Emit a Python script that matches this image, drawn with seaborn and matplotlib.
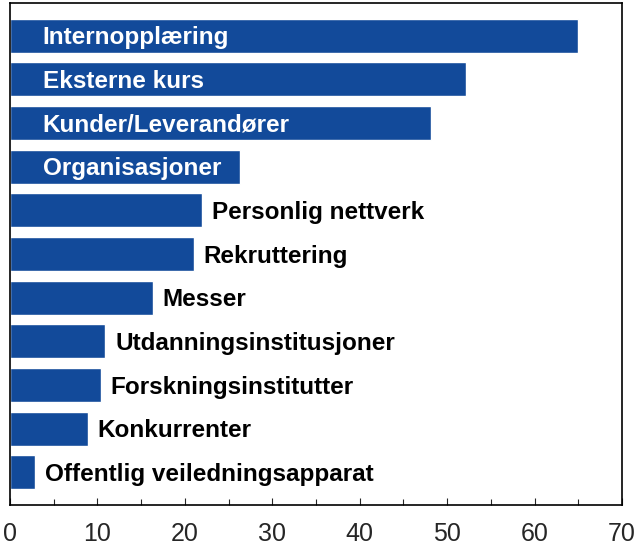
import pandas as pd
import seaborn as sns
import matplotlib
matplotlib.use('Agg')
import matplotlib.pyplot as plt
from matplotlib.ticker import MultipleLocator

# Data
kategorier = ['Internopplæring', 'Eksterne kurs', 'Kunder/Leverandører', 'Organisasjoner',
              'Personlig nettverk', 'Rekruttering', 'Messer', 'Utdanningsinstitusjoner',
              'Forskningsinstitutter', 'Konkurrenter', 'Offentlig veiledningsapparat']
verdier = [65.0, 52.2, 48.1, 26.3, 22.0, 21.0, 16.3, 10.9, 10.4, 8.9, 2.9]
inne_i_stolpen = [True, True, True, True, False, False, False, False, False, False, False]

df = pd.DataFrame({'kategori': kategorier, 'verdi': verdier})

sns.set_style('white')
plt.rcParams['font.family'] = ['Liberation Sans', 'DejaVu Sans']

fig = plt.figure(figsize=(6.4, 5.45), dpi=100)
ax = fig.add_axes([0.0156, 0.0734, 0.9563, 0.921])

sns.barplot(data=df, x='verdi', y='kategori', orient='h', color='#124a9a',
            saturation=1, width=0.78, ax=ax)

# Etiketter: hvit inni de lange stolpene, svart utenfor de korte
fs = 17.5
dy = -fs * 0.716 / 2
for i, (navn, v, inne) in enumerate(zip(kategorier, verdier, inne_i_stolpen)):
    if inne:
        ax.annotate(navn, xy=(0, i), xytext=(23.5, dy), textcoords='offset points',
                    va='baseline', ha='left', color='white', fontsize=fs, fontweight='bold')
    else:
        ax.annotate(navn, xy=(v, i), xytext=(7, dy), textcoords='offset points',
                    va='baseline', ha='left', color='black', fontsize=fs, fontweight='bold')

ax.set_xlim(0, 70)
ax.set_ylim(10.75, -0.75)
ax.set_xlabel('')
ax.set_ylabel('')
ax.set_yticks([])
ax.xaxis.set_major_locator(MultipleLocator(10))
ax.xaxis.set_minor_locator(MultipleLocator(5))
ax.tick_params(axis='x', which='major', direction='in', length=5, width=0.8,
               labelsize=18, pad=12, bottom=True)
ax.tick_params(axis='x', which='minor', direction='in', length=4, width=0.8, bottom=True)

for s in ax.spines.values():
    s.set_visible(True)
    s.set_color('black')
    s.set_linewidth(1.2)

fig.savefig('out.png', dpi=100)
